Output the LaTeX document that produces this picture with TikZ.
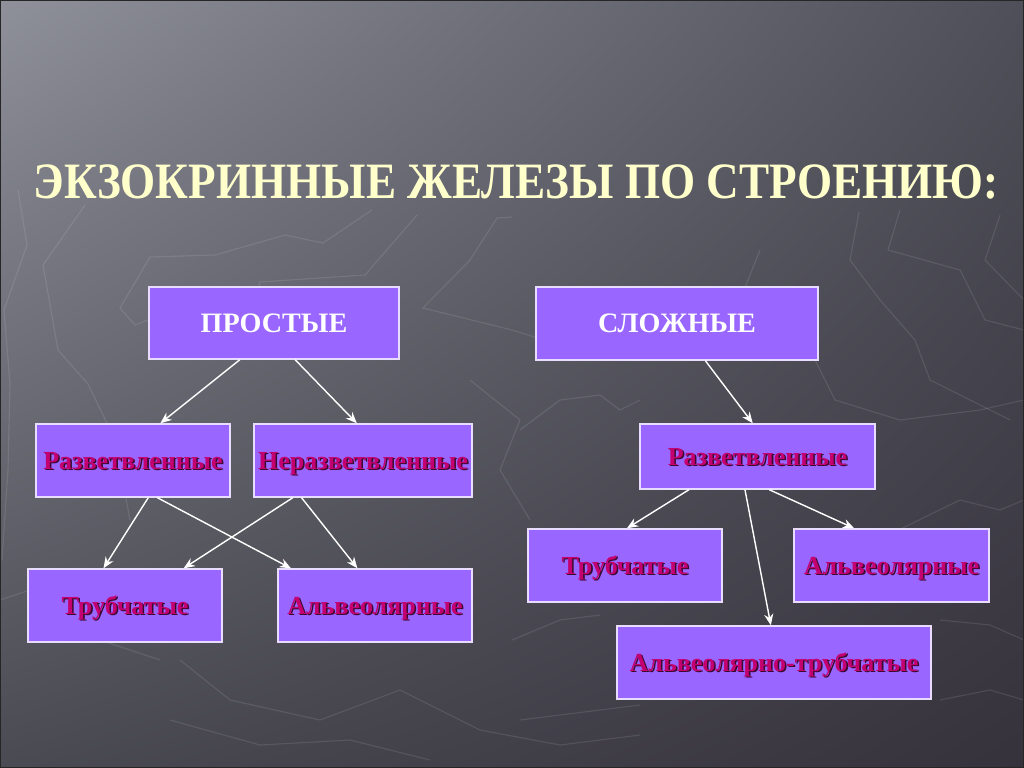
\documentclass[tikz,border=0pt]{standalone}
\usepackage{fontspec}
\setmainfont{Liberation Serif}
\newfontfamily\titlefont{Liberation Serif}
\usepackage{graphicx}
\usetikzlibrary{calc, arrows.meta, shadings}

\definecolor{boxfill}{HTML}{9966FF}
\definecolor{boxline}{HTML}{E8DCFF}
\definecolor{titlecol}{HTML}{FFFFCC}
\definecolor{wordcol}{HTML}{C40070}
\definecolor{wordshadow}{HTML}{3A0A30}
\definecolor{bgUL}{RGB}{142,144,154}
\definecolor{bgUR}{RGB}{78,79,88}
\definecolor{bgLL}{RGB}{74,74,82}
\definecolor{bgLR}{RGB}{54,50,60}

\newcommand{\shadowword}[1]{\makebox[0pt][l]{\hspace{1.1pt}\raisebox{-1.1pt}{\color{wordshadow}#1}}#1}

\tikzset{
	glandbox/.style={draw=boxline, line width=1pt, fill=boxfill, inner sep=0pt, text depth=0pt},
	headbox/.style={glandbox, text=white, text height=13.2pt,
		font=\fontsize{20}{22}\selectfont\bfseries},
	kindbox/.style={glandbox, text=wordcol, text height=12.2pt,
		font=\fontsize{18.5}{20}\selectfont\bfseries},
	link/.style={draw=white, line width=1pt, -{Stealth[length=8pt,width=6.5pt]}},
	bgline/.style={draw=white, opacity=0.1, line width=0.8pt}
}

\begin{document}
\begin{tikzpicture}[x=0.025cm, y=-0.025cm]
			\def\px{0.025cm}

			% background
			\shade[upper left=bgUL, upper right=bgUR, lower left=bgLL, lower right=bgLR]
				(0,0) rectangle (1024,768);
			\useasboundingbox (0,0) rectangle (1024,768);

			\begin{scope}
				\draw[bgline] (18,190) -- (27,245) -- (4,310) -- (10,384) -- (8,470) -- (2,560);
				\draw[bgline] (85,205) -- (43,265) -- (58,350) -- (88,384) -- (115,440) -- (130,520);
				\draw[bgline] (372,210) -- (323,243) -- (285,235) -- (215,255) -- (150,257) -- (120,308) -- (135,325) -- (148,320);
				\draw[bgline] (417,215) -- (365,275) -- (260,282) -- (258,290);
				\draw[bgline] (512,217) -- (497,218) -- (470,260) -- (423,308) -- (512,330) -- (560,345);
				\draw[bgline] (859,212) -- (850,260) -- (880,300) -- (915,340) -- (930,380) -- (1010,420);
				\draw[bgline] (900,210) -- (888,250) -- (960,270) -- (985,320) -- (1024,330);
				\draw[bgline] (1000,215) -- (985,260) -- (1024,300);
				\draw[bgline] (760,250) -- (740,300) -- (800,330) -- (835,400) -- (900,420) -- (980,410) -- (1024,400);
				\draw[bgline] (520,430) -- (560,400) -- (600,395) -- (620,410) -- (640,400);
				\draw[bgline] (878,540) -- (960,500) -- (1000,510) -- (1024,500);
				\draw[bgline] (512,640) -- (560,620) -- (600,615);
				\draw[bgline] (940,620) -- (990,625) -- (1024,640);
				\draw[bgline] (520,720) -- (600,710) -- (640,705);
				\draw[bgline] (940,700) -- (990,690) -- (1024,700);
				\draw[bgline] (180,660) -- (230,700) -- (320,720) -- (400,690) -- (480,730) -- (560,745) -- (640,735);
				\draw[bgline] (170,720) -- (260,745) -- (350,740) -- (430,760);
				\draw[bgline] (0,600) -- (60,580) -- (100,640) -- (160,660);
				\draw[bgline] (470,380) -- (520,420) -- (500,470) -- (530,520);
			\end{scope}

			% title
			\node[text=titlecol, font=\titlefont\fontsize{40}{44}\selectfont\bfseries] (title) at (516,182)
				{\resizebox{686pt}{24pt}{ЭКЗОКРИННЫЕ ЖЕЛЕЗЫ ПО СТРОЕНИЮ:}};

			% boxes
			\node[headbox, minimum width=250*\px, minimum height=72*\px] (prost) at (274,323) {ПРОСТЫЕ};
			\node[headbox, minimum width=282*\px, minimum height=73*\px] (slozh) at (677,323.5) {СЛОЖНЫЕ};

			\node[kindbox, minimum width=194*\px, minimum height=73*\px] (razvL) at (133,460.5) {\shadowword{Разветвленные}};
			\node[kindbox, minimum width=218*\px, minimum height=73*\px] (nerazv) at (363,460.5) {\shadowword{Неразветвленные}};
			\node[kindbox, minimum width=194*\px, minimum height=73*\px] (trubL) at (125,605.5) {\shadowword{Трубчатые}};
			\node[kindbox, minimum width=194*\px, minimum height=73*\px] (alvL) at (375,605.5) {\shadowword{Альвеолярные}};

			\node[kindbox, minimum width=235*\px, minimum height=65*\px] (razvR) at (757.5,456.5) {\shadowword{Разветвленные}};
			\node[kindbox, minimum width=194*\px, minimum height=73*\px] (trubR) at (625,565.5) {\shadowword{Трубчатые}};
			\node[kindbox, minimum width=195*\px, minimum height=73*\px] (alvR) at (891.5,565.5) {\shadowword{Альвеолярные}};
			\node[kindbox, minimum width=314*\px, minimum height=73*\px] (alvtrub) at (774,662.5) {\shadowword{Альвеолярно-трубчатые}};

			% arrows, left tree
			\draw[link] ($(prost.south west)!0.364!(prost.south east)$) -- ($(razvL.north west)!0.64!(razvL.north east)$);
			\draw[link] ($(prost.south west)!0.584!(prost.south east)$) -- ($(nerazv.north west)!0.472!(nerazv.north east)$);
			\draw[link] ($(razvL.south west)!0.578!(razvL.south east)$) -- ($(trubL.north west)!0.39!(trubL.north east)$);
			\draw[link] ($(razvL.south west)!0.625!(razvL.south east)$) -- ($(alvL.north west)!0.07!(alvL.north east)$);
			\draw[link] ($(nerazv.south west)!0.18!(nerazv.south east)$) -- ($(trubL.north west)!0.8!(trubL.north east)$);
			\draw[link] ($(nerazv.south west)!0.22!(nerazv.south east)$) -- ($(alvL.north west)!0.41!(alvL.north east)$);

			% arrows, right tree
			\draw[link] ($(slozh.south west)!0.6!(slozh.south east)$) -- ($(razvR.north west)!0.48!(razvR.north east)$);
			\draw[link] ($(razvR.south west)!0.21!(razvR.south east)$) -- ($(trubR.north west)!0.51!(trubR.north east)$);
			\draw[link] ($(razvR.south west)!0.55!(razvR.south east)$) -- ($(alvR.north west)!0.31!(alvR.north east)$);
			\draw[link] ($(razvR.south west)!0.447!(razvR.south east)$) -- ($(alvtrub.north west)!0.49!(alvtrub.north east)$);

			% frame
			\draw[black!85, line width=1.2pt] (0,0) rectangle (1024,768);
		\end{tikzpicture}
\end{document}
